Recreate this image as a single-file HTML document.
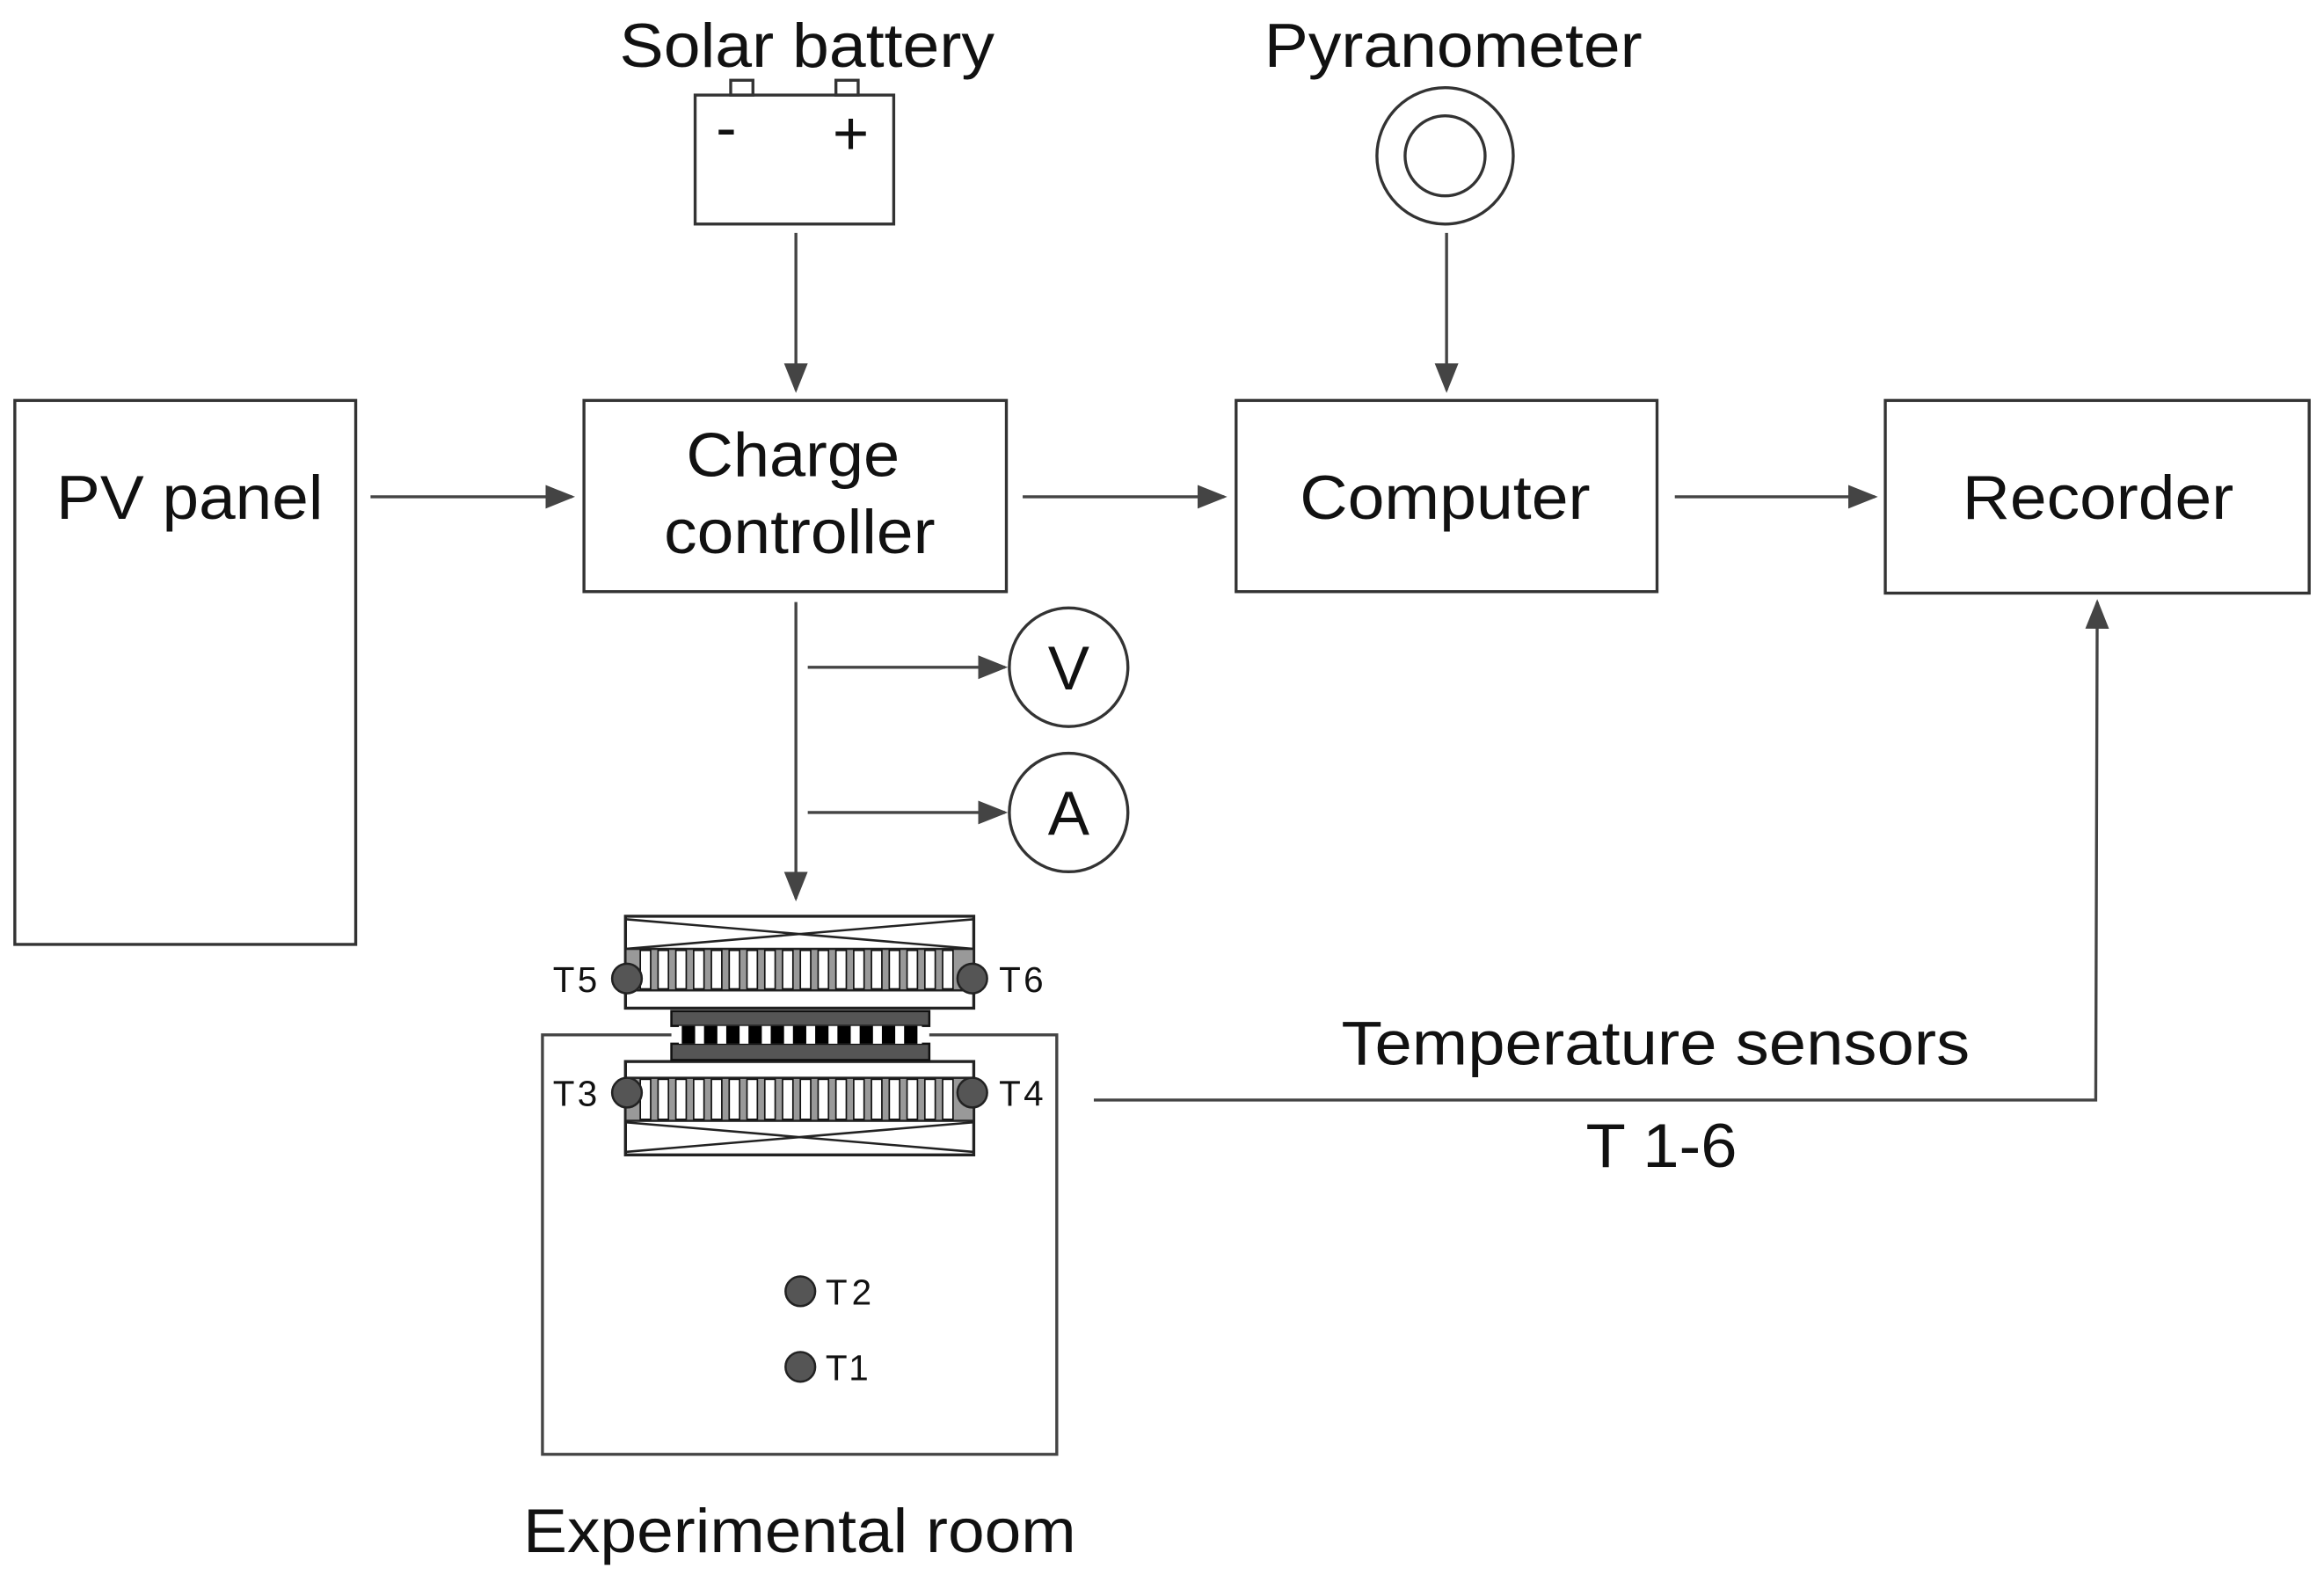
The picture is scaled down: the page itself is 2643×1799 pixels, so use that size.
<!DOCTYPE html>
<html><head><meta charset="utf-8"><style>html,body{margin:0;padding:0;background:#fff}svg{display:block}</style></head>
<body>
<svg width="2643" height="1799" viewBox="0 0 1568 1067" xmlns="http://www.w3.org/2000/svg" font-family="Liberation Sans, Arial, sans-serif">
<defs>
<marker id="ah2" markerWidth="20" markerHeight="20" refX="18" refY="8" orient="auto" markerUnits="userSpaceOnUse" viewBox="0 0 20 16">
<path d="M0,0 L20,8 L0,16 z" fill="#444"/></marker>
</defs>
<g fill="none" stroke="#333" stroke-width="2">
<rect x="10" y="270" width="230" height="367"/>
<rect x="394" y="270" width="285" height="129"/>
<rect x="834" y="270" width="284" height="129"/>
<rect x="1272" y="270" width="286" height="130"/>
<rect x="469" y="64" width="134" height="87"/>
<rect x="493" y="54" width="15" height="10"/>
<rect x="564" y="54" width="15" height="10"/>
<circle cx="975" cy="105" r="46"/>
<circle cx="975" cy="105" r="27"/>
<circle cx="721" cy="450" r="40"/>
<circle cx="721" cy="548" r="40"/>
</g>
<g stroke="#444" stroke-width="2" fill="none" marker-end="url(#ah2)">
<line x1="250" y1="335" x2="386" y2="335"/>
<line x1="690" y1="335" x2="826" y2="335"/>
<line x1="1130" y1="335" x2="1265" y2="335"/>
<line x1="537" y1="157" x2="537" y2="263"/>
<line x1="976" y1="157" x2="976" y2="263"/>
<line x1="537" y1="406" x2="537" y2="606"/>
<line x1="545" y1="450" x2="678" y2="450"/>
<line x1="545" y1="548" x2="678" y2="548"/>
<polyline points="738,742 1414,742 1415,406"/>
</g>
<g fill="none" stroke="#444" stroke-width="2">
<polyline points="453,698 366,698 366,981 713,981 713,698 627,698"/>
</g>
<g stroke="#222" stroke-width="2">
<rect x="422" y="618" width="235" height="62" fill="#fff"/>
<path d="M422,620 L657,640 M657,620 L422,640" fill="none" stroke-width="1.5"/>
<rect x="422" y="640" width="235" height="28" fill="#999" stroke-width="1.5"/>
<rect x="422" y="716" width="235" height="63" fill="#fff"/>
<path d="M422,757 L657,777 M657,757 L422,777" fill="none" stroke-width="1.5"/>
<rect x="422" y="727" width="235" height="29" fill="#999" stroke-width="1.5"/>
</g>
<g fill="#fff" stroke="#111" stroke-width="1">
<rect x="432" y="641" width="7" height="26"/><rect x="444" y="641" width="7" height="26"/><rect x="456" y="641" width="7" height="26"/><rect x="468" y="641" width="7" height="26"/><rect x="480" y="641" width="7" height="26"/><rect x="492" y="641" width="7" height="26"/><rect x="504" y="641" width="7" height="26"/><rect x="516" y="641" width="7" height="26"/><rect x="528" y="641" width="7" height="26"/><rect x="540" y="641" width="7" height="26"/><rect x="552" y="641" width="7" height="26"/><rect x="564" y="641" width="7" height="26"/><rect x="576" y="641" width="7" height="26"/><rect x="588" y="641" width="7" height="26"/><rect x="600" y="641" width="7" height="26"/><rect x="612" y="641" width="7" height="26"/><rect x="624" y="641" width="7" height="26"/><rect x="636" y="641" width="7" height="26"/>
<rect x="432" y="728" width="7" height="27"/><rect x="444" y="728" width="7" height="27"/><rect x="456" y="728" width="7" height="27"/><rect x="468" y="728" width="7" height="27"/><rect x="480" y="728" width="7" height="27"/><rect x="492" y="728" width="7" height="27"/><rect x="504" y="728" width="7" height="27"/><rect x="516" y="728" width="7" height="27"/><rect x="528" y="728" width="7" height="27"/><rect x="540" y="728" width="7" height="27"/><rect x="552" y="728" width="7" height="27"/><rect x="564" y="728" width="7" height="27"/><rect x="576" y="728" width="7" height="27"/><rect x="588" y="728" width="7" height="27"/><rect x="600" y="728" width="7" height="27"/><rect x="612" y="728" width="7" height="27"/><rect x="624" y="728" width="7" height="27"/><rect x="636" y="728" width="7" height="27"/>
</g>
<rect x="453" y="682" width="174" height="10" fill="#555" stroke="#111" stroke-width="1.5"/>
<rect x="453" y="704" width="174" height="11" fill="#555" stroke="#111" stroke-width="1.5"/>
<rect x="458" y="692" width="164" height="12" fill="#fff"/>
<g fill="#000">
<rect x="460" y="692" width="9" height="12"/><rect x="475" y="692" width="9" height="12"/><rect x="490" y="692" width="9" height="12"/><rect x="505" y="692" width="9" height="12"/><rect x="520" y="692" width="9" height="12"/><rect x="535" y="692" width="9" height="12"/><rect x="550" y="692" width="9" height="12"/><rect x="565" y="692" width="9" height="12"/><rect x="580" y="692" width="9" height="12"/><rect x="595" y="692" width="9" height="12"/><rect x="610" y="692" width="9" height="12"/>
</g>
<g fill="#555" stroke="#222" stroke-width="1.5">
<circle cx="423" cy="660" r="10"/><circle cx="656" cy="660" r="10"/>
<circle cx="423" cy="737" r="10"/><circle cx="656" cy="737" r="10"/>
<circle cx="540" cy="871" r="10"/><circle cx="540" cy="922" r="10"/>
</g>
<g fill="#111" font-size="24" lengthAdjust="spacingAndGlyphs">
<text x="373" y="669" textLength="30">T5</text><text x="674" y="669" textLength="30">T6</text>
<text x="373" y="746" textLength="30">T3</text><text x="674" y="746" textLength="30">T4</text>
<text x="557" y="880" textLength="31">T2</text><text x="557" y="931" textLength="29">T1</text>
</g>
<g fill="#111" font-size="42">
<text x="38" y="350" textLength="180" lengthAdjust="spacingAndGlyphs">PV panel</text>
<text x="463" y="321" textLength="144" lengthAdjust="spacingAndGlyphs">Charge</text>
<text x="448" y="373" textLength="183" lengthAdjust="spacingAndGlyphs">controller</text>
<text x="877" y="350" textLength="196" lengthAdjust="spacingAndGlyphs">Computer</text>
<text x="1324" y="350" textLength="183" lengthAdjust="spacingAndGlyphs">Recorder</text>
<text x="418" y="45" textLength="253" lengthAdjust="spacingAndGlyphs">Solar battery</text>
<text x="853" y="45" textLength="255" lengthAdjust="spacingAndGlyphs">Pyranometer</text>
<text x="905" y="718" textLength="424" lengthAdjust="spacingAndGlyphs">Temperature sensors</text>
<text x="1070" y="787" textLength="102" lengthAdjust="spacingAndGlyphs">T 1-6</text>
<text x="353" y="1047" textLength="373" lengthAdjust="spacingAndGlyphs">Experimental room</text>
</g>
<g fill="#111" font-size="42" text-anchor="middle">
<text x="721" y="465">V</text>
<text x="721" y="563">A</text>
<text x="490" y="100">-</text>
<text x="574" y="104">+</text>
</g>
</svg>
</body></html>
